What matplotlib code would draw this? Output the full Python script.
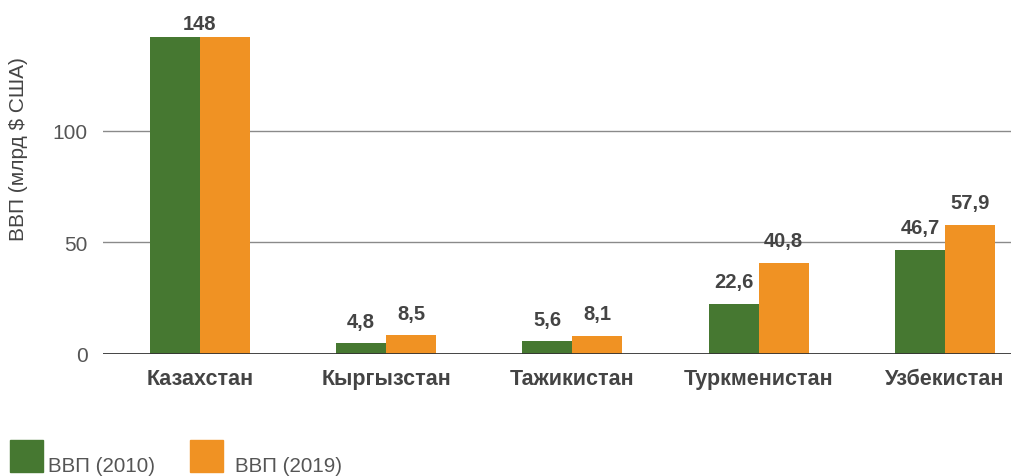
import matplotlib.pyplot as plt
from matplotlib.patches import Rectangle
import numpy as np

plt.rcParams['font.family'] = ['Liberation Sans', 'DejaVu Sans']

countries = ['Казахстан', 'Кыргызстан', 'Тажикистан', 'Туркменистан', 'Узбекистан']
gdp_2010 = [148, 4.8, 5.6, 22.6, 46.7]
gdp_2019 = [148, 8.5, 8.1, 40.8, 57.9]
series_names = ['ВВП (2010)', 'ВВП (2019)']
yticks = [0, 50, 100]

green = '#467831'
orange = '#f09223'
txt = '#444444'
light = '#555555'

fig = plt.figure(figsize=(10.12, 4.77), dpi=100)
ax = fig.add_axes([0.1018, 0.2558, 0.8982, 0.6646])

x = np.arange(len(countries))
w = 0.268
ytop = 142
ax.bar(x - w / 2, gdp_2010, w, color=green)
ax.bar(x + w / 2, gdp_2019, w, color=orange)

ax.set_xlim(-0.52, 4.36)
ax.set_ylim(0, ytop)

for i in range(len(countries)):
    a, b = gdp_2010[i], gdp_2019[i]
    if a == b:
        ax.annotate(str(a), (x[i], min(a, ytop)), xytext=(0, 3), textcoords='offset points',
                    ha='center', va='bottom', fontsize=14.5, fontweight='bold', color=txt,
                    annotation_clip=False)
        continue
    for xx, v in [(x[i] - w / 2, a), (x[i] + w / 2, b)]:
        ax.annotate(f'{v}'.replace('.', ','), (xx, v), xytext=(0, 9), textcoords='offset points',
                    ha='center', va='bottom', fontsize=14.5, fontweight='bold', color=txt)

for y in yticks[1:]:
    ax.axhline(y, color='#8a8a8a', lw=1, zorder=0)
ax.axhline(0, color='#333333', lw=2, zorder=3)

for s in ax.spines.values():
    s.set_visible(False)
ax.set_yticks(yticks)
ax.set_yticklabels([str(t) for t in yticks], fontsize=15, color=light)
ax.set_xticks(x)
ax.set_xticklabels(countries, fontsize=15.5, fontweight='bold', color=txt)
ax.tick_params(axis='y', length=0, pad=11)
ax.tick_params(axis='x', length=0, pad=10)
ax.set_ylabel('ВВП (млрд $ США)', fontsize=15, color=txt)
ax.yaxis.set_label_coords(-0.083, 0.65)

# legend drawn by hand at the bottom left
for (lx, tx), name, c in zip([(10, 48), (190, 235)], series_names, [green, orange]):
    fig.patches.append(Rectangle((lx / 1012, 4 / 477), 33 / 1012, 32 / 477,
                                 transform=fig.transFigure, color=c))
    fig.text(tx / 1012, 1 / 477, name, fontsize=14.8, color=light, ha='left', va='bottom')

fig.savefig('out.png', dpi=100)
